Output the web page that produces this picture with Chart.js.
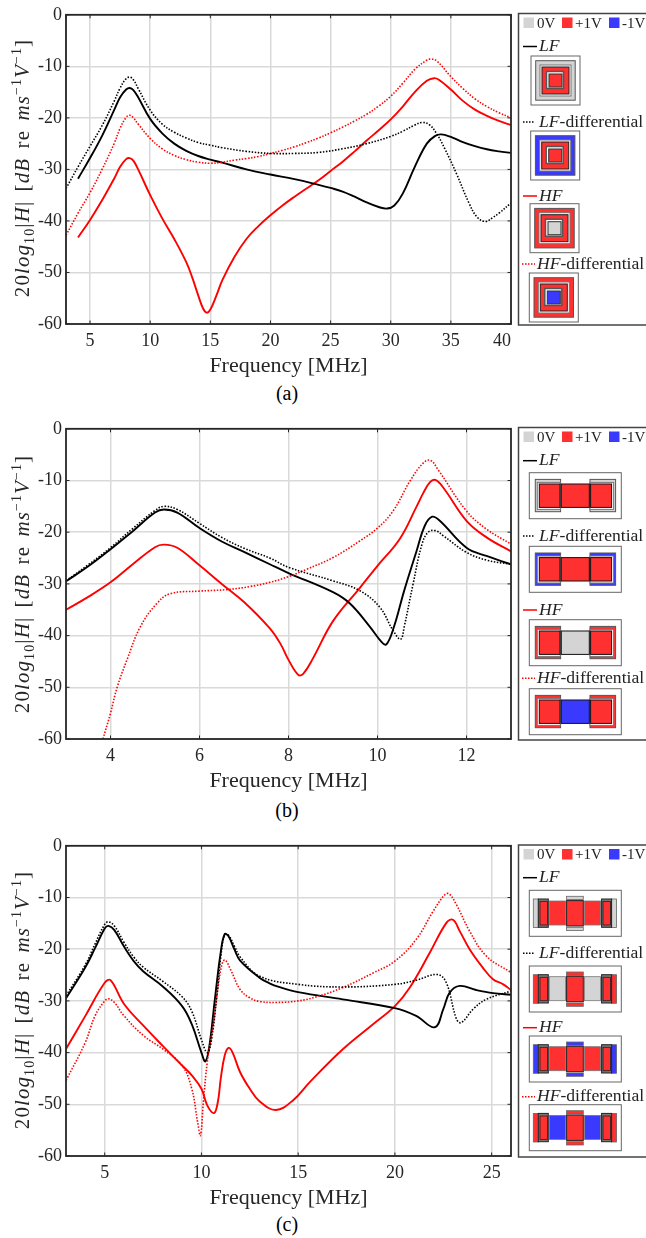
<!DOCTYPE html>
<html>
<head>
<meta charset="utf-8">
<script src="https://cdn.jsdelivr.net/npm/chart.js@4/dist/chart.umd.js"></script>
<style>
  html, body { margin: 0; padding: 0; background: #fff; }
  body { position: relative; width: 646px; height: 1238px; overflow: hidden; font-family: "Liberation Serif", serif; }
  canvas.plot { position: absolute; left: 0; }
  svg { position: absolute; left: 0; top: 0; }
  .ylab { position: absolute; left: 22px; width: 300px; margin-left: -150px; height: 24px; line-height: 24px; margin-top: -12px;
          text-align: center; transform: rotate(-90deg); font-size: 21px; letter-spacing: 1.1px; word-spacing: 3px; color: #262626; white-space: nowrap; }
  .ylab sub, .ylab sup { font-size: 14px; line-height: 0; }
  .cap { position: absolute; left: 237px; width: 100px; text-align: center; font-size: 20px; line-height: 24px; color: #000; }
</style>
</head>
<body>
<canvas class="plot" id="plotA" style="top:0"></canvas>
<canvas class="plot" id="plotB" style="top:414px"></canvas>
<canvas class="plot" id="plotC" style="top:831px"></canvas>

<div class="ylab" style="top:168px">20<i>log</i><sub>10</sub>|<i>H</i>| [<i>dB</i> re <i>ms</i><sup>−1</sup><i>V</i><sup>−1</sup>]</div>
<div class="ylab" style="top:584px">20<i>log</i><sub>10</sub>|<i>H</i>| [<i>dB</i> re <i>ms</i><sup>−1</sup><i>V</i><sup>−1</sup>]</div>
<div class="ylab" style="top:1000px">20<i>log</i><sub>10</sub>|<i>H</i>| [<i>dB</i> re <i>ms</i><sup>−1</sup><i>V</i><sup>−1</sup>]</div>
<div class="cap" style="top:381px">(a)</div>
<div class="cap" style="top:798px">(b)</div>
<div class="cap" style="top:1212px">(c)</div>

<svg id="panels" width="646" height="1238" xmlns="http://www.w3.org/2000/svg"></svg>

<script>
// [frequency MHz, dB]
const aLF = [[4,-31.8],[5,-27.8],[6,-23.5],[7,-18.5],[7.5,-16],[8,-14.5],[8.3,-14.2],[8.6,-14.6],[9,-16],[10,-20.2],[11,-23],[12,-25],[13,-26.4],[14,-27.4],[15,-28.1],[16,-28.7],[18,-30],[20,-31],[22,-31.9],[24,-33],[25,-33.6],[26,-34.3],[27,-35.3],[28,-36.4],[29,-37.3],[29.7,-37.6],[30.3,-37],[31,-34.7],[32,-29.5],[33,-25],[33.7,-23.5],[34.2,-23.2],[35,-23.7],[36,-24.7],[37,-25.5],[38,-26.1],[39,-26.5],[40,-26.8]];
const aLFdiff = [[3,-33.7],[4,-29.5],[5,-25.5],[6,-21.5],[7,-16.8],[7.5,-14.2],[8,-12.4],[8.3,-12.1],[8.6,-12.6],[9,-14.3],[10,-18.5],[11,-21.2],[12,-22.8],[13,-23.9],[14,-24.8],[15,-25.3],[16,-25.8],[18,-26.5],[20,-26.9],[22,-26.9],[24,-26.7],[26,-26],[28,-25],[30,-23.6],[31,-22.6],[32,-21.4],[32.6,-20.9],[33.2,-21.3],[33.8,-23],[34.5,-26],[35.5,-31],[36.5,-36.5],[37.2,-39.3],[37.9,-40.1],[38.5,-39.3],[39,-38.5],[40,-36.5]];
const aHF = [[4,-43.2],[5,-39.8],[6,-36],[7,-31.8],[7.5,-29.5],[8,-28],[8.3,-27.8],[8.6,-28.3],[9,-30],[10,-35],[11,-39.5],[12,-43.5],[13,-48],[13.5,-51],[14,-54.5],[14.4,-57],[14.7,-57.8],[15,-57.2],[15.5,-54.5],[16,-51.5],[17,-47],[18,-43.5],[19,-41],[20,-38.9],[21,-37],[22,-35.3],[23,-33.7],[24,-32.1],[25,-30.3],[26,-28.5],[27,-26.5],[28,-24.4],[29,-22.4],[30,-20.3],[31,-17.8],[32,-15],[33,-12.8],[33.6,-12.3],[34,-12.6],[35,-14.5],[36,-16.7],[37,-18.4],[38,-19.6],[39,-20.6],[40,-21.4]];
const aHFdiff = [[3,-42.8],[4,-38.5],[5,-34.5],[6,-30],[7,-25],[7.5,-22],[8,-19.9],[8.3,-19.5],[8.6,-20],[9,-21.2],[10,-24],[11,-26],[12,-27.3],[13,-28.1],[14,-28.6],[15,-28.8],[16,-28.6],[17,-28.2],[18,-27.9],[19,-27.5],[20,-26.9],[21,-26.3],[22,-25.6],[23,-24.8],[24,-23.9],[25,-22.9],[26,-21.8],[27,-20.6],[28,-19.3],[29,-17.7],[30,-15.8],[31,-13.3],[32,-10.6],[33,-8.8],[33.3,-8.6],[33.8,-8.9],[35,-12],[36,-14.3],[37,-16.3],[38,-17.8],[39,-19],[40,-20]];

const bLF = [[3,-29.5],[3.5,-26.6],[4,-23.3],[4.5,-19.8],[5,-16.2],[5.2,-15.6],[5.5,-16.2],[6,-19.2],[6.5,-21.8],[7,-23.8],[7.58,-26.2],[8,-27.9],[9,-31.6],[9.38,-33.8],[9.83,-38.3],[10.09,-41.2],[10.2,-41.7],[10.37,-38.3],[10.6,-31.3],[10.88,-23.6],[11.06,-18.8],[11.23,-17],[11.4,-17.8],[12,-23],[12.45,-24.6],[13,-26.2]];
const bLFdiff = [[3,-29.4],[3.5,-26.3],[4,-23],[4.5,-19.3],[5,-15.8],[5.2,-15],[5.5,-15.6],[6,-18.3],[6.5,-21],[7,-23.1],[7.58,-25],[8,-26.8],[9,-29.4],[9.6,-31.3],[10.05,-34.5],[10.35,-39],[10.52,-40.7],[10.6,-38.3],[10.8,-30],[11,-22.3],[11.14,-20],[11.3,-19.7],[11.48,-20.7],[12,-23.9],[12.45,-25.4],[13,-26.2]];
const bHF = [[3,-35],[3.5,-32.5],[4,-29.7],[4.5,-26.2],[5,-22.9],[5.2,-22.4],[5.5,-23],[6,-26.4],[6.5,-30],[7,-33.5],[7.58,-38.6],[7.82,-41.6],[8,-44.7],[8.22,-47.6],[8.33,-47.4],[8.55,-44.4],[9,-37.2],[9.6,-30.8],[10,-26.5],[10.5,-21.3],[10.88,-15],[11.03,-12.4],[11.18,-10.3],[11.3,-9.9],[11.48,-11.4],[12,-17.8],[12.45,-21],[13,-23.7]];
const bHFdiff = [[3.83,-60],[4,-55],[4.15,-50],[4.37,-44.7],[4.67,-38.3],[5.04,-33.8],[5.34,-31.9],[6,-31.4],[6.62,-31.1],[7.14,-30.5],[7.58,-29.7],[8,-28.6],[8.4,-27.2],[9,-24.9],[9.6,-21.7],[10,-19.2],[10.35,-15.9],[10.73,-10.1],[11.03,-6.6],[11.19,-6.1],[11.36,-7.9],[12,-15.9],[12.45,-19.4],[13,-22.3]];

const cLF = [[3,-29.5],[4,-23.5],[4.5,-19.8],[5,-16],[5.2,-15.5],[5.5,-16.3],[6,-19.5],[6.5,-22.3],[7,-24.3],[8,-27.2],[9,-31],[9.5,-34.5],[10,-40],[10.2,-41.7],[10.4,-39],[10.7,-29.5],[11,-20.5],[11.2,-17.1],[11.4,-17.5],[11.7,-20],[12,-22.2],[13,-25.5],[13.52,-26.6],[14,-27.3],[15,-28.3],[17.3,-29.7],[20,-31.4],[21.1,-32.9],[22.06,-35.1],[22.5,-31.6],[22.83,-28.4],[23.35,-27.1],[24.2,-27.9],[25.07,-28.5],[26,-28.8]];
const cLFdiff = [[3,-29],[4,-23],[4.5,-19],[5,-15.2],[5.2,-14.7],[5.5,-15.5],[6,-18.7],[6.5,-21.5],[7,-23.5],[8,-26.2],[9,-29.2],[9.5,-32],[10,-37.5],[10.3,-40],[10.5,-38],[10.8,-29],[11,-21.5],[11.2,-17.2],[11.4,-17.3],[11.7,-19.4],[12,-21.5],[13,-25.2],[15,-26.8],[17.3,-27.3],[20,-26.8],[21.1,-26],[22.2,-24.9],[22.66,-26.5],[23.18,-33.5],[23.43,-34.2],[24.04,-31.6],[24.72,-29.7],[26,-28.1]];
const cHF = [[3,-39.3],[4,-32.9],[5,-26.5],[5.3,-26],[6,-30.6],[7,-34.8],[8,-38.7],[9,-42.5],[9.5,-44.4],[10,-47],[10.3,-50.2],[10.65,-51.7],[10.85,-49.5],[11,-45],[11.2,-40.6],[11.4,-39.1],[11.6,-39.9],[12,-43.8],[12.5,-47],[13,-49.4],[13.85,-51.1],[14.74,-49.2],[15.6,-45.7],[17.32,-39.3],[18.87,-34.5],[20,-31],[20.77,-27.4],[21.8,-20.7],[22.66,-14.9],[23,-14.3],[23.35,-16.5],[23.86,-20],[24.55,-23.6],[25.07,-25.8],[25.6,-26.8],[26,-27.9]];
const cHFdiff = [[3,-45.4],[4,-38],[4.5,-32.9],[5,-30],[5.2,-29.6],[5.5,-30.3],[6,-32.9],[7,-36.7],[8,-39.3],[9,-42.5],[9.5,-47],[9.8,-53.4],[9.95,-56],[10.1,-49.6],[10.3,-41.9],[10.6,-34.8],[11,-23.9],[11.2,-22.1],[11.5,-23.9],[12,-27.8],[12.5,-29.4],[13,-30.1],[13.85,-30.3],[15,-30],[15.95,-29.2],[17.32,-27.4],[18.87,-24.6],[20,-22.3],[21.1,-18.1],[21.97,-12.7],[22.57,-9.5],[22.8,-9.3],[23.18,-11.4],[23.86,-16.5],[24.72,-21.3],[26,-24.5]];

// 3 in the first list is only there so the 40 label can sit inside the frame
const xTicksA = [3, 5, 10, 15, 20, 25, 30, 35, 40];
const xTicksB = [4, 6, 8, 10, 12];
const xTicksC = [5, 10, 15, 20, 25];
const yTicks = [0, -10, -20, -30, -40, -50, -60];
const xTitle = 'Frequency [MHz]';
const INK = '#262626';
const FONT = '"Liberation Serif", serif';

// ticks point inward on all four sides, like the original figure
const frameTicks = {
  id: 'frameTicks',
  afterDraw(chart) {
    const ctx = chart.ctx, a = chart.chartArea, len = 3.5;
    ctx.save();
    ctx.strokeStyle = INK;
    ctx.lineWidth = 1;
    ctx.beginPath();
    chart.scales.x.ticks.forEach(t => {
      const px = chart.scales.x.getPixelForValue(t.value);
      ctx.moveTo(px, a.top); ctx.lineTo(px, a.top + len);
      ctx.moveTo(px, a.bottom); ctx.lineTo(px, a.bottom - len);
    });
    chart.scales.y.ticks.forEach(t => {
      const py = chart.scales.y.getPixelForValue(t.value);
      ctx.moveTo(a.left, py); ctx.lineTo(a.left + len, py);
      ctx.moveTo(a.right, py); ctx.lineTo(a.right - len, py);
    });
    ctx.stroke();
    ctx.lineWidth = 1.8;
    ctx.strokeRect(a.left, a.top, a.right - a.left, a.bottom - a.top);
    ctx.restore();
  }
};

function series(pairs, color, dotted) {
  return {
    data: pairs.map(p => ({ x: p[0], y: p[1] })),
    borderColor: color,
    borderWidth: dotted ? 1.6 : 1.9,
    borderDash: dotted ? [1.5, 1.6] : [],
    pointRadius: 0,
    tension: 0.4
  };
}

function makePlot(id, xMax, xTicks, sets, plotHeight, tickAlign) {
  const el = document.getElementById(id);
  el.width = 516; el.height = 13 + plotHeight + 56;
  el.style.width = '516px'; el.style.height = el.height + 'px';
  return new Chart(el.getContext('2d'), {
    type: 'line',
    data: { datasets: sets },
    plugins: [frameTicks],
    options: {
      responsive: false,
      animation: false,
      layout: { padding: { top: 13, right: 5, left: 0, bottom: 0 } },
      plugins: { legend: { display: false }, tooltip: { enabled: false } },
      scales: {
        x: {
          type: 'linear', min: 3, max: xMax,
          afterFit(s) { s.height = 56; s.paddingRight = 0; s.paddingLeft = 0; },
          afterBuildTicks(s) { s.ticks = xTicks.map(v => ({ value: v })); },
          grid: { color: '#d9d9d9', lineWidth: 1.5, drawTicks: false },
          border: { display: false },
          ticks: {
            color: INK, font: { family: FONT, size: 18 }, padding: 6, maxRotation: 0, autoSkip: false,
            align: tickAlign || 'center',
            callback: v => (v === 3 ? '' : v)
          },
          title: { display: true, text: xTitle, color: INK, font: { family: FONT, size: 22 }, padding: { top: 1, bottom: 1 } }
        },
        y: {
          min: -60, max: 0,
          afterFit(s) { s.width = 66; },
          afterBuildTicks(s) { s.ticks = yTicks.map(v => ({ value: v })); },
          grid: { color: '#d9d9d9', lineWidth: 1.5, drawTicks: false },
          border: { display: false },
          ticks: { color: INK, font: { family: FONT, size: 18 }, padding: 4 }
        }
      }
    }
  });
}

makePlot('plotA', 40, xTicksA, [series(aLFdiff, '#000', true), series(aHFdiff, '#f00', true), series(aLF, '#000'), series(aHF, '#f00')], 311, 'inner');
makePlot('plotB', 13, xTicksB, [series(bLFdiff, '#000', true), series(bHFdiff, '#f00', true), series(bLF, '#000'), series(bHF, '#f00')], 312);
makePlot('plotC', 26, xTicksC, [series(cLFdiff, '#000', true), series(cHFdiff, '#f00', true), series(cLF, '#000'), series(cHF, '#f00')], 312);

// right hand key panels: voltage key, line key and electrode sketches
const RED = '#ff3030', GRAY = '#d4d4d4', BLUE = '#3a3aff';
const svg = document.getElementById('panels');
const NS = 'http://www.w3.org/2000/svg';

function rect(x, y, w, h, fill, stroke, sw) {
  const r = document.createElementNS(NS, 'rect');
  r.setAttribute('x', x); r.setAttribute('y', y);
  r.setAttribute('width', w); r.setAttribute('height', h);
  r.setAttribute('fill', fill);
  if (stroke) { r.setAttribute('stroke', stroke); r.setAttribute('stroke-width', sw || 1); }
  svg.appendChild(r);
}

function line(x1, x2, y, color, dotted) {
  const l = document.createElementNS(NS, 'line');
  l.setAttribute('x1', x1); l.setAttribute('x2', x2);
  l.setAttribute('y1', y); l.setAttribute('y2', y);
  l.setAttribute('stroke', color); l.setAttribute('stroke-width', 1.5);
  if (dotted) l.setAttribute('stroke-dasharray', '1.5 1.5');
  svg.appendChild(l);
}

function label(x, y, italic, plain, size) {
  const t = document.createElementNS(NS, 'text');
  t.setAttribute('x', x); t.setAttribute('y', y);
  t.setAttribute('font-family', FONT);
  t.setAttribute('font-size', size || 17.6);
  t.setAttribute('fill', '#222');
  if (italic) {
    const i = document.createElementNS(NS, 'tspan');
    i.setAttribute('font-style', 'italic');
    i.textContent = italic;
    t.appendChild(i);
  }
  if (plain) t.appendChild(document.createTextNode(plain));
  svg.appendChild(t);
}

function panelFrame(top, bottom) {
  rect(518.5, top, 140, bottom - top, '#fff', '#444', 1.5);
}

function voltageKey(y) {
  rect(523.5, y, 10.5, 10.5, GRAY);
  label(537, y + 10, '', '0V', 15);
  rect(562, y, 10.5, 10.5, RED);
  label(575, y + 10, '', '+1V', 15);
  rect(609, y, 10.5, 10.5, BLUE);
  label(622, y + 10, '', '-1V', 15);
}

// concentric square electrodes of panel (a)
function squareSketch(x, y, c1, c3) {
  rect(x, y, 49, 49, '#fff', '#666', 1);
  rect(x + 4.7, y + 4.7, 39.5, 39.5, c1, '#555', 1);
  rect(x + 9, y + 9, 31, 31, '#fff', '#777', 1);
  rect(x + 11, y + 11, 27, 27, RED, '#222', 1);
  rect(x + 15.5, y + 15.5, 17, 17, '#fff', '#555', 1.5);
  rect(x + 18, y + 18, 13, 13, c3, '#333', 1);
}

// three electrode layout of panel (b)
function sideSketch(x, y, c1, c2) {
  rect(x, y, 92, 46, '#fff', '#666', 1);
  rect(x + 6, y + 6.7, 25.3, 32.3, c1, '#555', 1);
  rect(x + 60.7, y + 6.7, 25.6, 32.3, c1, '#555', 1);
  rect(x + 8, y + 9.7, 23, 27, '#fff', '#777', 1);
  rect(x + 60.7, y + 9.7, 23.6, 27, '#fff', '#777', 1);
  rect(x + 10, y + 11.3, 20.7, 23.4, RED, '#111', 1);
  rect(x + 61.3, y + 11.3, 21, 23.4, RED, '#111', 1);
  rect(x + 32, y + 11.3, 28, 23.4, c2, '#111', 1);
}

// five electrode layout of panel (c)
function rowSketch(x, y, outer, mid) {
  rect(x, y, 92, 46, '#fff', '#666', 1);
  rect(x + 4, y + 8.7, 5, 28.6, outer, '#666', 0.8);
  rect(x + 82.3, y + 8.7, 5, 28.6, outer, '#666', 0.8);
  rect(x + 9, y + 8.7, 10, 28.3, '#777', '#222', 1);
  rect(x + 72.3, y + 8.7, 10, 28.3, '#777', '#222', 1);
  rect(x + 10.7, y + 11.3, 7.6, 23.4, RED, '#222', 0.8);
  rect(x + 73.7, y + 11.3, 7.6, 23.4, RED, '#222', 0.8);
  rect(x + 20, y + 10.7, 16.3, 24, mid, '#777', 0.8);
  rect(x + 55.3, y + 10.7, 16, 24, mid, '#777', 0.8);
  rect(x + 37.3, y + 6, 16.7, 3.3, outer, '#666', 0.8);
  rect(x + 37.3, y + 37, 16.7, 3.3, outer, '#666', 0.8);
  rect(x + 37.3, y + 10.3, 16.7, 25.4, RED, '#222', 1);
}

function lineKeys(rows) {
  line(523, 537, rows[0], '#000', false);
  label(539, rows[0] + 4.5, 'LF', '');
  line(523, 535, rows[1], '#000', true);
  label(539, rows[1] + 4.5, 'LF', '-differential');
  line(523, 537, rows[2], '#f00', false);
  label(539, rows[2] + 4.5, 'HF', '');
  line(522, 535, rows[3], '#f00', true);
  label(537, rows[3] + 4.5, 'HF', '-differential');
}

panelFrame(13.5, 325);
voltageKey(17.5);
lineKeys([46.5, 122, 196, 264]);
squareSketch(531, 56, GRAY, RED);
squareSketch(530.7, 131, BLUE, RED);
squareSketch(530, 203.7, RED, GRAY);
squareSketch(529.3, 273, RED, BLUE);

panelFrame(427.5, 740);
voltageKey(431.5);
lineKeys([460.7, 536, 610, 678.3]);
sideSketch(529.3, 472.7, GRAY, RED);
sideSketch(529.3, 546.3, BLUE, RED);
sideSketch(529.3, 619.7, RED, GRAY);
sideSketch(529.3, 688.7, RED, BLUE);

panelFrame(845, 1157);
voltageKey(849);
lineKeys([877.7, 953.3, 1027.7, 1096.7]);
rowSketch(529.3, 890.3, GRAY, RED);
rowSketch(529.3, 966, RED, GRAY);
rowSketch(529.3, 1036, BLUE, RED);
rowSketch(529.3, 1104.7, RED, BLUE);
</script>
</body>
</html>
